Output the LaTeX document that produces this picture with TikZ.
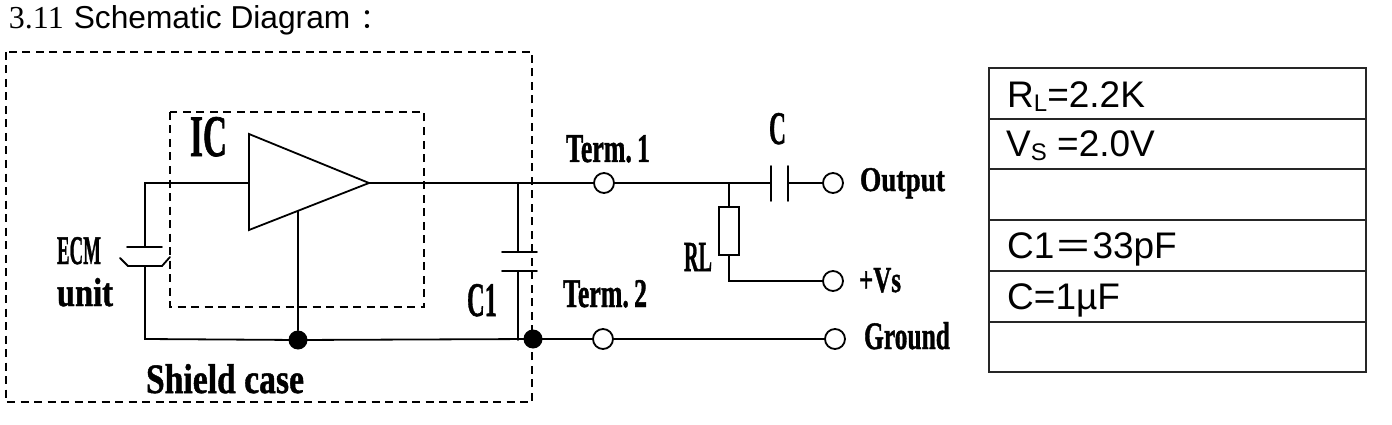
\documentclass[tikz,border=0pt]{standalone}
\usepackage{fontspec}
\setmainfont{Liberation Sans}
\newfontfamily\timesf{Liberation Serif}
\newfontfamily\condf[FakeBold=1.2]{Liberation Serif Bold}
\newfontfamily\cjkf{Noto Sans CJK SC}
\newcommand{\lab}[3]{\resizebox{#1pt}{#2pt}{\condf\fontsize{30}{30}\selectfont #3}}
\newcommand{\subs}[1]{\raisebox{-3.5pt}{\fontsize{24}{24}\selectfont #1}}
\tikzset{
  wire/.style={line width=1.8pt,line cap=round,line join=miter},
  dashbox/.style={line width=1.8pt,dash pattern=on 8pt off 5.5pt},
  term/.style={circle,draw,line width=1.8pt,fill=white,inner sep=0pt,minimum size=20pt},
  dot/.style={circle,fill=black,inner sep=0pt,minimum size=19pt},
  lbl/.style={anchor=base west,inner sep=0pt,outer sep=0pt},
  resbox/.style={rectangle,draw,line width=1.5pt,fill=white,inner sep=0pt,minimum width=20pt,minimum height=48pt},
  cell/.style={anchor=base west,inner sep=0pt,font=\fontsize{37}{37}\selectfont},
  tbl/.style={line width=1.5pt,draw=black!85},
}
\begin{document}
\begin{tikzpicture}[x=1pt,y=-1pt]
\useasboundingbox (0,0) rectangle (1392,425);
% title
\node[lbl] (title) at (9,29) {{\timesf\fontsize{32}{32}\selectfont 3.11}\hspace{10pt}{\fontsize{31.7}{32}\selectfont Schematic Diagram}\hspace{10pt}{\cjkf\fontsize{28}{28}\selectfont ：}};
% dashed boxes
\draw[dashbox] (6,52) rectangle (532,402);
\draw[dashbox] (170,112) rectangle (424,307);
% amplifier
\coordinate (ampA) at (249,134);
\coordinate (ampB) at (249,230);
\coordinate (ampOut) at (369,183);
\coordinate (ampIn) at (249,183);
\coordinate (ampGnd) at (298,211);
\draw[wire] (ampA) -- (ampOut) -- (ampB) -- cycle;
% terminals and dots
\node[term] (t1) at (604,183) {};
\node[term] (t2) at (603,339) {};
\node[term] (out) at (833,183) {};
\node[term] (vs) at (833,281) {};
\node[term] (gnd) at (835,339) {};
\node[dot] (d1) at (298,340) {};
\node[dot] (d2) at (533,339) {};
% ECM
\coordinate (ecmTL) at (145,183);
\coordinate (ecmT) at (145,247);
\coordinate (ecmB) at (145,266);
\coordinate (ecmBL) at (145,339);
\draw[wire] (ampIn) -- (ecmTL) -- (ecmT);
\draw[wire] (127,247) -- (162,247);
\draw[wire] (120,258) -- (128,266) -- (162,266) -- (170,257);
\draw[wire] (ecmB) -- (ecmBL) -- (d1.center) -- (d2.center) -- (t2) -- (gnd);
\draw[wire] (ampGnd) -- (d1);
% C1
\coordinate (c1T) at (518,183);
\coordinate (c1A) at (518,252);
\coordinate (c1B) at (518,271);
\coordinate (c1G) at (518,340);
\draw[wire] (c1T) -- (c1A);
\draw[wire] (502,252) -- (537,252);
\draw[wire] (502,271) -- (537,271);
\draw[wire] (c1B) -- (c1G);
% output line
\coordinate (j) at (729,183);
\coordinate (cL) at (771,183);
\coordinate (cR) at (788,183);
\draw[wire] (ampOut) -- (t1) -- (j) -- (cL);
\draw[wire] (cR) -- (out);
\draw[wire] (771,166) -- (771,201);
\draw[wire] (788,166) -- (788,201);
% RL
\node[resbox] (rl) at (729,231) {};
\coordinate (rlC) at (729,281);
\draw[wire] (j) -- (rl);
\draw[wire] (rl) -- (rlC) -- (vs);
% labels
\node[lbl] (lIC) at (190,156) {\lab{37}{39}{IC}};
\node[lbl] (lECM) at (57,264) {\lab{44}{27}{ECM}};
\node[lbl] (lUnit) at (57,306) {\lab{56}{28}{unit}};
\node[lbl] (lShield) at (146,393) {\lab{158}{29}{Shield case}};
\node[lbl] (lT1) at (566,162) {\lab{84}{27}{Term.\hspace{6pt}1}};
\node[lbl] (lT2) at (563,307) {\lab{84}{27}{Term.\hspace{6pt}2}};
\node[lbl] (lC) at (769,144) {\lab{17}{31}{C}};
\node[lbl] (lC1) at (467,316) {\lab{30}{32}{C1}};
\node[lbl] (lRL) at (684,271) {\lab{28}{28}{RL}};
\node[lbl] (lOut) at (860,191) {\lab{85}{23}{Output}};
\node[lbl] (lVs) at (859,292) {\lab{42}{24}{+Vs}};
\node[lbl] (lGnd) at (864,349) {\lab{86}{27}{Ground}};
% table
\draw[tbl] (989,68) rectangle (1366,372);
\foreach \yy in {119,169,220,271,322} \draw[tbl] (989,\yy) -- (1366,\yy);
\node[cell] (r1) at (1007,108) {R\subs{L}=2.2K};
\node[cell] (r2) at (1006,157) {V\subs{S} =2.0V};
\node[cell] (r4) at (1007,258) {C1\raisebox{-2pt}{\cjkf\fontsize{38}{38}\selectfont ＝}33pF};
\node[cell] (r5) at (1007,309) {C=1µF};
\end{tikzpicture}
\end{document}
